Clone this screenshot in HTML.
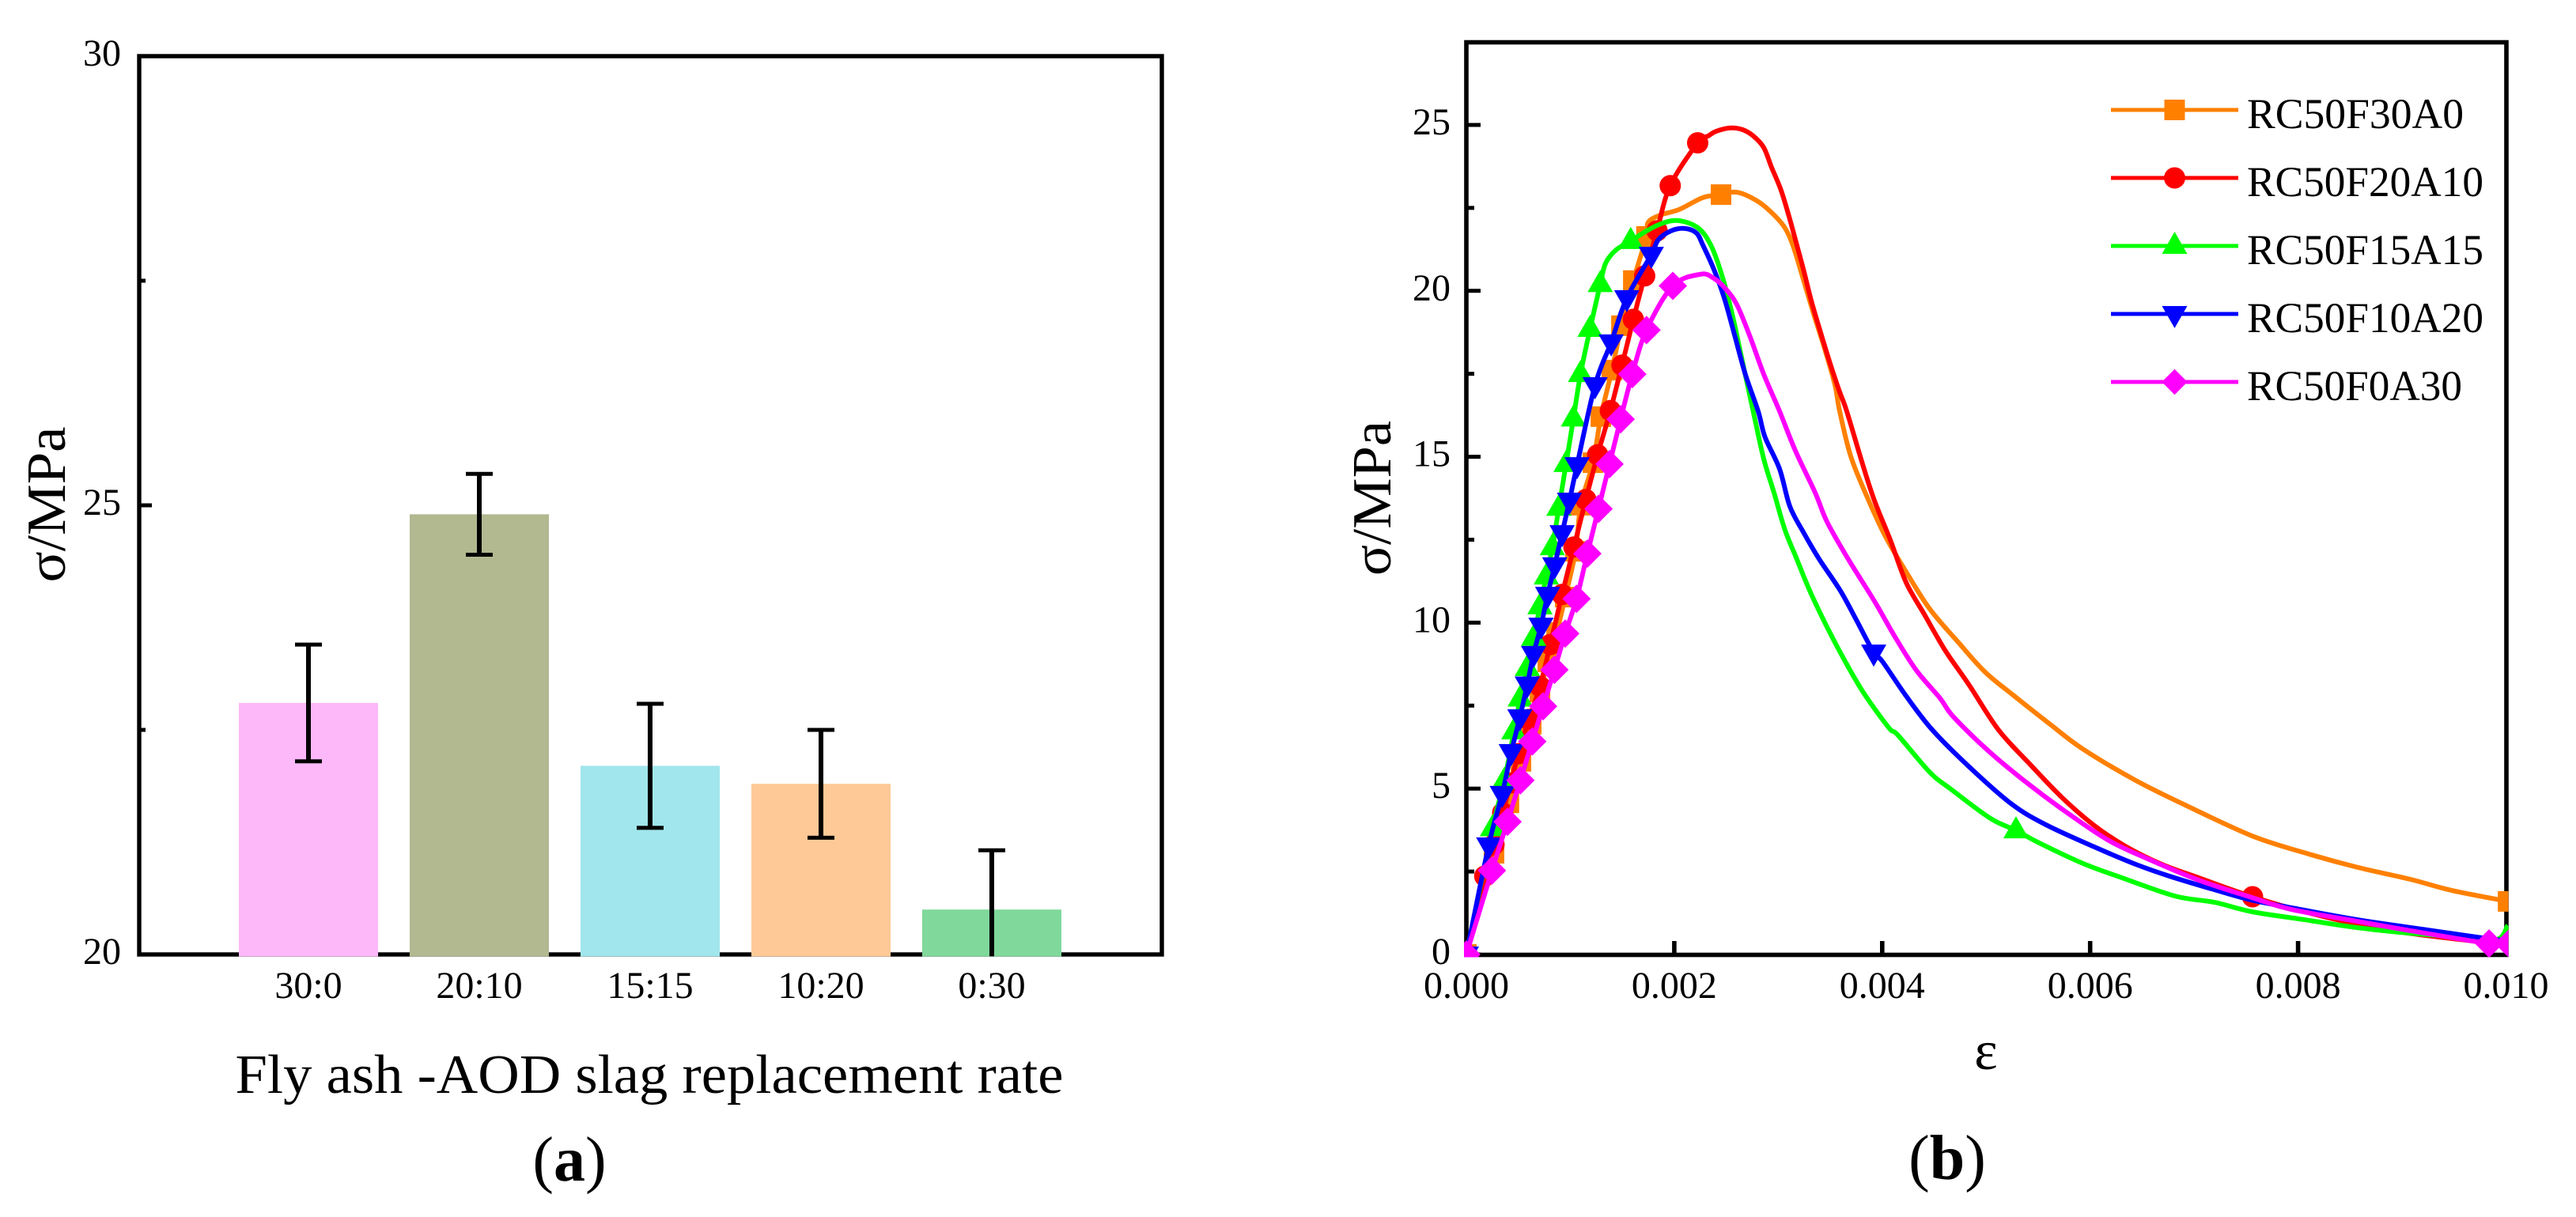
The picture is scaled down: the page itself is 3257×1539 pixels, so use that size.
<!DOCTYPE html>
<html lang="en">
<head>
<meta charset="utf-8">
<title>Fly ash and AOD slag replacement: strength and stress-strain curves</title>
<style>
html,body{margin:0;padding:0;background:#fff;}
svg{display:block;}
text{font-family:"Liberation Serif","DejaVu Serif",serif;fill:#000;}
</style>
</head>
<body>
<svg id="figure" xmlns="http://www.w3.org/2000/svg" width="3257" height="1539" viewBox="0 0 3257 1539">
  <rect x="0" y="0" width="3257" height="1539" fill="#fff"/>
  <defs>
    <clipPath id="plot-b-clip"><rect x="1851" y="50" width="1320.5" height="1160.5"/></clipPath>
  </defs>

  <g id="panel-a">
    <rect x="176" y="71" width="1293" height="1136" fill="none" stroke="#000" stroke-width="5.4"/>
    <g id="a-ticks"></g>
    <g id="a-bars"></g>
    <g id="a-errors"></g>
    <g id="a-xlabels"></g>
    <text transform="translate(82,638) rotate(-90)" text-anchor="middle" font-size="70" textLength="197" lengthAdjust="spacingAndGlyphs">σ/MPa</text>
    <text x="821" y="1382" text-anchor="middle" font-size="70" textLength="1047" lengthAdjust="spacingAndGlyphs">Fly ash -AOD slag replacement rate</text>
    <text x="720" y="1493" text-anchor="middle" font-size="80">(<tspan font-weight="bold">a</tspan>)</text>
  </g>

  <g id="panel-b">
    <rect x="1854" y="53.5" width="1315" height="1154" fill="none" stroke="#000" stroke-width="5.6"/>
    <g id="b-yaxis"></g>
    <g id="b-xaxis"></g>
    <g id="b-series" clip-path="url(#plot-b-clip)"></g>
    <g id="b-legend"></g>
    <text transform="translate(1758,630) rotate(-90)" text-anchor="middle" font-size="70" textLength="196" lengthAdjust="spacingAndGlyphs">σ/MPa</text>
    <text x="2511" y="1352" text-anchor="middle" font-size="70">ε</text>
    <text x="2462" y="1491" text-anchor="middle" font-size="80">(<tspan font-weight="bold">b</tspan>)</text>
  </g>
</svg>

<script>
// ---------- Panel (a) data ----------
const barCategories = ["30:0", "20:10", "15:15", "10:20", "0:30"];
const barValues = [22.8, 24.9, 22.1, 21.9, 20.5];
const barErrUpper = [23.45, 25.35, 22.79, 22.5, 21.16];
const barErrLower = [22.15, 24.45, 21.41, 21.3, 19.84];
const barColors = ["#FDB8F9", "#B2B88F", "#A1E6EC", "#FEC997", "#80D89B"];
const aMajorTicks = [20, 25, 30];
const aMinorTicks = [22.5, 27.5];

// ---------- Panel (b) data ----------
const bYMajorTicks = [0, 5, 10, 15, 20, 25];
const bYMinorTicks = [2.5, 7.5, 12.5, 17.5, 22.5];
const bXTicks = [0, 0.002, 0.004, 0.006, 0.008, 0.01];
const bXTickLabels = ["0.000", "0.002", "0.004", "0.006", "0.008", "0.010"];

const orangeStrain = [0,.000266,.000409,.000525,.000624,.000708,.000784,.000868,.000951,.00105,.001101,.001218,.001294,.0014,.001492,.001606,.001733,.00175,.001871,.002046,.002275,.00245,.002607,.002807,.002959,.003064,.00314,.003241,.00334,.003444,.003545,.003591,.003697,.003849,.004024,.00423,.004458,.004737,.00499,.00527,.005622,.005926,.006436,.006943,.007552,.008056,.008566,.009073,.009479,.01002];
const orangeStress = [0,3.05,4.57,5.82,6.94,7.91,8.82,9.70,10.77,12.15,13.54,14.82,16.21,17.61,18.95,20.31,21.64,22.07,22.29,22.45,22.81,22.90,22.97,22.69,22.29,21.90,21.38,20.35,19.31,18.28,17.17,16.37,15.02,13.83,12.64,11.53,10.41,9.39,8.51,7.79,6.92,6.20,5.25,4.46,3.58,3.07,2.63,2.27,1.93,1.60];
const orangeMarkers = [0,1,2,3,4,5,6,7,8,9,10,11,12,13,14,15,16,21,49];

const redStrain = [0,.000177,.000266,.00035,.000426,.000502,.000601,.000708,.000807,.000921,.001035,.001149,.001263,.001385,.001497,.001606,.001715,.001834,.001961,.002225,.002328,.002404,.002541,.002655,.002759,.00286,.002936,.003025,.003102,.003165,.003241,.003317,.003406,.003492,.003583,.003659,.003811,.003925,.004078,.00423,.004405,.004534,.004633,.004838,.005118,.005422,.005726,.00603,.006335,.006687,.007045,.007562,.008056,.008695,.009235,.010011];
const redStress = [0,2.36,3.31,4.27,5.17,6.05,7.08,8.08,9.34,10.85,12.28,13.71,15.06,16.39,17.76,19.14,20.45,21.81,23.17,24.46,24.67,24.81,24.91,24.86,24.67,24.32,23.72,23.05,22.26,21.54,20.66,19.71,18.76,17.88,17.02,16.37,14.78,13.68,12.49,11.21,10.25,9.54,9.03,8.11,6.77,5.73,4.74,3.91,3.27,2.72,2.31,1.74,1.29,.83,.57,.29];
const redMarkers = [0,1,2,3,4,5,6,7,8,9,10,11,12,13,14,15,16,17,18,19,51];

const greenStrain = [0,.000251,.000365,.000457,.000518,.000586,.000647,.000708,.000769,.000827,.00089,.000959,.00103,.001098,.00119,.001288,.001339,.001438,.001581,.001719,.001871,.002037,.002227,.002351,.002455,.002556,.002655,.002759,.00286,.002959,.003064,.003178,.003302,.003469,.003644,.003824,.004062,.004154,.004458,.004661,.005041,.005287,.005498,.005926,.006307,.006816,.007197,.007552,.008056,.008566,.009073,.009578,.009913,.010017];
const greenStress = [0,3.80,5.23,6.72,7.71,8.63,9.54,10.49,11.39,12.27,13.46,14.78,16.15,17.49,18.85,20.20,20.83,21.23,21.50,21.78,22.02,22.12,21.90,21.38,20.50,19.31,17.88,16.37,14.94,13.92,12.80,11.92,10.97,9.87,8.83,7.87,6.84,6.60,5.49,4.98,4.10,3.74,3.38,2.75,2.31,1.76,1.57,1.29,1.05,.81,.64,.52,.45,.88];
const greenMarkers = [0,1,2,3,4,5,6,7,8,9,10,11,12,13,14,15,18,41];

const blueStrain = [0,.000215,.000345,.000432,.000515,.000586,.000647,.000718,.000782,.00085,.000921,.000992,.001065,.001238,.001393,.001543,.001779,.001846,.00197,.0021,.002214,.002275,.002379,.00248,.002579,.002683,.002807,.002873,.003013,.003111,.003241,.003393,.003596,.003748,.003918,.004002,.00423,.004481,.004838,.005242,.005574,.006056,.006436,.006763,.007197,.007552,.007932,.008566,.009197,.00973,.010011];
const blueStress = [0,3.29,4.84,6.10,7.15,8.14,9.06,9.91,10.84,11.73,12.70,13.68,14.75,17.16,18.45,19.78,21.09,21.54,21.81,21.88,21.74,21.38,20.66,19.79,18.68,17.49,16.37,15.59,14.63,13.51,12.73,11.92,10.97,10.10,9.10,8.83,7.79,6.77,5.65,4.54,3.91,3.22,2.72,2.36,1.95,1.64,1.41,1.05,.76,.52,.41];
const blueMarkers = [0,1,2,3,4,5,6,7,8,9,10,11,12,13,14,15,16,34];

const magentaStrain = [0,.000246,.000396,.00052,.000634,.000738,.000847,.000951,.00106,.001164,.001271,.001377,.001484,.001596,.001733,.001986,.002252,.002379,.002503,.002607,.002731,.00286,.003013,.003165,.003355,.003469,.003672,.003925,.004129,.004329,.004557,.004686,.005041,.005422,.005802,.006182,.006563,.007045,.007552,.007932,.008566,.009073,.009837,.010027];
const magentaStress = [0,2.53,4.00,5.25,6.42,7.48,8.58,9.67,10.72,12.08,13.43,14.78,16.13,17.49,18.82,20.15,20.50,20.38,20.03,19.55,18.60,17.49,16.37,15.18,13.92,13.04,11.92,10.65,9.54,8.56,7.72,7.16,6.08,5.10,4.22,3.43,2.87,2.24,1.72,1.36,1.00,.72,.33,.33];
const magentaMarkers = [0,1,2,3,4,5,6,7,8,9,10,11,12,13,14,15,42,43];

const seriesNames = ["RC50F30A0", "RC50F20A10", "RC50F15A15", "RC50F10A20", "RC50F0A30"];

// ---------- Helpers ----------
const NS = "http://www.w3.org/2000/svg";
function mk(tag, parent) {
  const el = document.createElementNS(NS, tag);
  parent.appendChild(el);
  return el;
}
function label(parent, str, x, y, size, anchor) {
  const t = mk("text", parent);
  t.setAttribute("x", x);
  t.setAttribute("y", y);
  t.setAttribute("font-size", size);
  t.setAttribute("text-anchor", anchor);
  t.textContent = str;
  return t;
}
function line(parent, x1, y1, x2, y2, w) {
  const l = mk("line", parent);
  l.setAttribute("x1", x1);
  l.setAttribute("y1", y1);
  l.setAttribute("x2", x2);
  l.setAttribute("y2", y2);
  l.setAttribute("stroke", "#000");
  l.setAttribute("stroke-width", w);
  return l;
}

// ---------- Panel (a) ----------
function xA(i) { return 390 + 216 * i; }
function yA(v) { return 1207 - (v - 20) * 113.6; }

const aTickGroup = document.getElementById("a-ticks");
aMajorTicks.forEach(function (v) {
  const tick = line(aTickGroup, 176, yA(v), 192, yA(v), 5);
  
  
  const lab = label(aTickGroup, String(v), 153, yA(v) + 12, 48, "end");
  
  
});
aMinorTicks.forEach(function (v) {
  const tick = line(aTickGroup, 176, yA(v), 184, yA(v), 5);
  
  
});

const aBarGroup = document.getElementById("a-bars");
const aErrGroup = document.getElementById("a-errors");
const aXGroup = document.getElementById("a-xlabels");
barCategories.forEach(function (cat, i) {
  const b = mk("rect", aBarGroup);
  
  
  b.setAttribute("x", xA(i) - 88);
  b.setAttribute("y", yA(barValues[i]));
  b.setAttribute("width", 176);
  b.setAttribute("height", yA(20) + 2.5 - yA(barValues[i]));
  b.setAttribute("fill", barColors[i]);

  const lo = Math.max(barErrLower[i], 19.98);
  const stem = line(aErrGroup, xA(i), yA(barErrUpper[i]), xA(i), yA(lo), 6);
  
  
  const capTop = line(aErrGroup, xA(i) - 17, yA(barErrUpper[i]), xA(i) + 17, yA(barErrUpper[i]), 5);
  
  
  if (barErrLower[i] >= 20) {
    const capBottom = line(aErrGroup, xA(i) - 17, yA(barErrLower[i]), xA(i) + 17, yA(barErrLower[i]), 5);
    
    
  }
  const lab = label(aXGroup, cat, xA(i), 1262, 48, "middle");
  
  
});

// ---------- Panel (b) ----------
function xB(e) { return 1854 + e * 131450; }
function yB(s) { return 1207 - s * 41.96; }

const bY = document.getElementById("b-yaxis");
bYMajorTicks.forEach(function (v) {
  const tick = line(bY, 1854, yB(v), 1872, yB(v), 5);
  
  
  const lab = label(bY, String(v), 1834, yB(v) + 12, 48, "end");
  
  
});
bYMinorTicks.forEach(function (v) {
  const tick = line(bY, 1854, yB(v), 1864, yB(v), 5);
  
  
});
const bX = document.getElementById("b-xaxis");
bXTicks.forEach(function (v, i) {
  const tick = line(bX, xB(v), 1207, xB(v), 1190, 5.6);
  
  
  const lab = label(bX, bXTickLabels[i], xB(v), 1262, 48, "middle");
  
  
});

function smoothPath(xs, ys) {
  let d = "M" + xs[0].toFixed(2) + " " + ys[0].toFixed(2);
  for (let i = 0; i < xs.length - 1; i++) {
    const p0 = Math.max(i - 1, 0), p3 = Math.min(i + 2, xs.length - 1);
    const c1x = xs[i] + (xs[i + 1] - xs[p0]) / 6;
    const c1y = ys[i] + (ys[i + 1] - ys[p0]) / 6;
    const c2x = xs[i + 1] - (xs[p3] - xs[i]) / 6;
    const c2y = ys[i + 1] - (ys[p3] - ys[i]) / 6;
    d += "C" + c1x.toFixed(2) + " " + c1y.toFixed(2) + " " + c2x.toFixed(2) + " " + c2y.toFixed(2) + " " + xs[i + 1].toFixed(2) + " " + ys[i + 1].toFixed(2);
  }
  return d;
}

function drawMarker(parent, kind, color, x, y, scale) {
  let m;
  if (kind === "square") {
    m = mk("rect", parent);
    m.setAttribute("x", x - 13);
    m.setAttribute("y", y - 13);
    m.setAttribute("width", 26);
    m.setAttribute("height", 26);
  } else if (kind === "circle") {
    m = mk("circle", parent);
    m.setAttribute("cx", x);
    m.setAttribute("cy", y);
    m.setAttribute("r", 13.5);
  } else {
    m = mk("polygon", parent);
    let pts;
    if (kind === "up") {
      pts = [[x, y - 18], [x + 16, y + 10], [x - 16, y + 10]];
    } else if (kind === "down") {
      pts = [[x - 16, y - 10], [x + 16, y - 10], [x, y + 18]];
    } else {
      const h = 18 * scale;
      pts = [[x, y - h], [x + h, y], [x, y + h], [x - h, y]];
    }
    m.setAttribute("points", pts.map(function (p) { return p[0] + "," + p[1]; }).join(" "));
  }
  m.setAttribute("fill", color);
  return m;
}

function drawSeries(name, color, kind, strain, stress, markers) {
  const g = mk("g", document.getElementById("b-series"));
  
  
  const xs = strain.map(xB);
  const ys = stress.map(yB);
  const p = mk("path", g);
  
  
  p.setAttribute("d", smoothPath(xs, ys));
  p.setAttribute("fill", "none");
  p.setAttribute("stroke", color);
  p.setAttribute("stroke-width", 6);
  p.setAttribute("stroke-linejoin", "round");
  markers.forEach(function (idx) {
    const m = drawMarker(g, kind, color, xs[idx], ys[idx], 1);
    
    
  });
}

drawSeries(seriesNames[0], "#FF8000", "square", orangeStrain, orangeStress, orangeMarkers);
drawSeries(seriesNames[1], "#FF0000", "circle", redStrain, redStress, redMarkers);
drawSeries(seriesNames[2], "#00FF00", "up", greenStrain, greenStress, greenMarkers);
drawSeries(seriesNames[3], "#0000FF", "down", blueStrain, blueStress, blueMarkers);
drawSeries(seriesNames[4], "#FF00FF", "diamond", magentaStrain, magentaStress, magentaMarkers);

// ---------- Legend ----------
const legendColors = ["#FF8000", "#FF0000", "#00FF00", "#0000FF", "#FF00FF"];
const legendKinds = ["square", "circle", "up", "down", "diamond"];
const legendWidths = [274, 299, 299, 299, 272];
const legendGroup = document.getElementById("b-legend");
seriesNames.forEach(function (name, i) {
  const y = 139 + i * 86;
  const entry = mk("g", legendGroup);
  
  
  const l = mk("line", entry);
  l.setAttribute("x1", 2669);
  l.setAttribute("x2", 2830);
  l.setAttribute("y1", y);
  l.setAttribute("y2", y);
  l.setAttribute("stroke", legendColors[i]);
  l.setAttribute("stroke-width", 5);
  const m = drawMarker(entry, legendKinds[i], legendColors[i], 2749.5, y, 0.9);
  
  
  const t = label(entry, name, 2841, y + 23, 54, "start");
  t.setAttribute("textLength", legendWidths[i]);
  t.setAttribute("lengthAdjust", "spacingAndGlyphs");
  
  
});
</script>
</body>
</html>
